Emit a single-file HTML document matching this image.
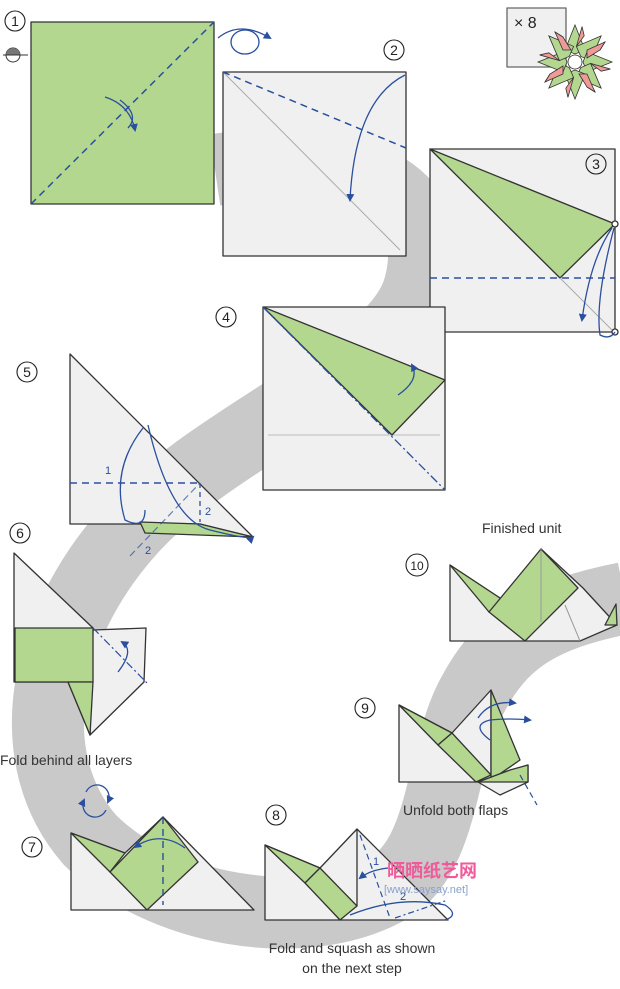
<!DOCTYPE html>
<html><head><meta charset="utf-8"><style>
html,body{margin:0;padding:0;background:#fff;width:620px;height:989px;overflow:hidden}
svg{display:block}
text{font-family:"Liberation Sans","Noto Sans CJK SC",sans-serif}
</style></head><body>
<svg width="620" height="989" viewBox="0 0 620 989" xmlns="http://www.w3.org/2000/svg">
<defs>
<marker id="ah" markerWidth="8" markerHeight="8" refX="6" refY="4" orient="auto" markerUnits="userSpaceOnUse"><path d="M0,0 L8,4 L0,8 z" fill="#2a4f9e"/></marker>
</defs>
<!-- gray swirl -->
<path d="M215,170 C350,150 445,190 420,285 C400,370 220,430 130,530 C40,630 20,760 90,840 C160,910 300,935 385,890 C445,860 440,760 470,700 C500,640 540,615 625,598" fill="none" stroke="#c9c9c9" stroke-width="72"/>
<g stroke="#333" stroke-width="1.3" stroke-linejoin="round">
<!-- step 1 -->
<rect x="31" y="22" width="183" height="182" fill="#b3d78f"/>
<line x1="31" y1="204" x2="214" y2="22" stroke="#2a4f9e" stroke-dasharray="7,5" stroke-width="1.5"/>
<!-- step 2 -->
<rect x="223" y="72" width="183" height="184" fill="#f0f0f0"/>
<line x1="223" y1="72" x2="400" y2="250" stroke="#aaa" stroke-width="1"/>
<line x1="223" y1="72" x2="406" y2="148" stroke="#2a4f9e" stroke-dasharray="7,5" stroke-width="1.5"/>
<!-- step 3 -->
<rect x="430" y="149" width="185" height="183" fill="#f0f0f0"/>
<polygon points="430,149 615,224 560,278" fill="#b3d78f"/>
<line x1="560" y1="278" x2="612" y2="330" stroke="#aaa" stroke-width="1"/>
<line x1="430" y1="278" x2="615" y2="278" stroke="#2a4f9e" stroke-dasharray="7,5" stroke-width="1.5"/>
<circle cx="615" cy="224" r="3" fill="#fff"/><circle cx="615" cy="332" r="3" fill="#fff"/>
<!-- x8 box -->
<rect x="507" y="8" width="59" height="59" fill="#f0f0f0" stroke="#666"/>
<!-- step 4 -->
<rect x="263" y="307" width="182" height="183" fill="#f0f0f0"/>
<line x1="268" y1="435" x2="440" y2="435" stroke="#bbb" stroke-width="1"/>
<polygon points="263,307 445,380 392,435" fill="#b3d78f"/>
<line x1="263" y1="307" x2="445" y2="490" stroke="#2a4f9e" stroke-dasharray="9,3,2,3" stroke-width="1.3"/>
<!-- step 5 -->
<polygon points="70,354 253,537 200,524 70,524" fill="#f0f0f0"/>
<polygon points="140,522 200,524 253,537 145,533" fill="#b3d78f"/>
<line x1="70" y1="483" x2="200" y2="483" stroke="#2a4f9e" stroke-dasharray="7,5" stroke-width="1.4"/>
<line x1="200" y1="483" x2="200" y2="522" stroke="#2a4f9e" stroke-dasharray="5,4" stroke-width="1.3"/>
<line x1="130" y1="556" x2="200" y2="483" stroke="#2a4f9e" stroke-dasharray="7,4" stroke-width="1.2" opacity=".7"/>
<!-- step 6 -->
<polygon points="14,553 93,628 90,735 68,682 14,682" fill="#f0f0f0"/>
<polygon points="93,630 146,628 144,682 90,735" fill="#f0f0f0"/>
<rect x="15" y="628" width="78" height="54" fill="#b3d78f"/>
<polygon points="68,682 93,682 90,735" fill="#b3d78f"/>
<line x1="93" y1="628" x2="148" y2="684" stroke="#2a4f9e" stroke-dasharray="8,3,2,3" stroke-width="1.2"/>
<!-- step 7 -->
<polygon points="71,833 125,853 163,817 254,910 71,910" fill="#f0f0f0"/>
<polygon points="71,833 125,853 110,872" fill="#b3d78f"/>
<polygon points="163,817 198,862 147,910 110,872" fill="#b3d78f"/>
<line x1="163" y1="817" x2="163" y2="905" stroke="#2a4f9e" stroke-dasharray="7,5" stroke-width="1.4"/>
<!-- step 8 -->
<polygon points="265,845 320,868 357,829 448,920 265,920" fill="#f0f0f0"/>
<polygon points="265,845 320,868 305,883" fill="#b3d78f"/>
<polygon points="320,868 357,906 340,920 305,883" fill="#b3d78f"/>
<line x1="357" y1="829" x2="357" y2="906"/>
<line x1="360" y1="835" x2="390" y2="918" stroke="#2a4f9e" stroke-dasharray="6,4" stroke-width="1.2"/>
<line x1="395" y1="918" x2="448" y2="900" stroke="#2a4f9e" stroke-dasharray="6,3,2,3" stroke-width="1.2"/>
<!-- step 9 -->
<polygon points="399,705 452,733 491,690 491,780 482,782 399,782" fill="#f0f0f0"/>
<polygon points="399,705 452,733 438,745" fill="#b3d78f"/>
<polygon points="452,733 491,775 476,782 438,745" fill="#b3d78f"/>
<polygon points="491,690 520,760 491,780" fill="#b3d78f"/>
<polygon points="478,782 528,765 528,782 500,795" fill="#f0f0f0"/>
<polygon points="478,782 510,770 528,765 528,782" fill="#b3d78f"/>
<line x1="520" y1="775" x2="537" y2="805" stroke="#2a4f9e" stroke-dasharray="6,4" stroke-width="1.2"/>
<!-- step 10 -->
<polygon points="450,565 503,600 541,549 583,588 617,625 580,641 450,641" fill="#f0f0f0"/>
<polygon points="450,565 503,600 489,612" fill="#b3d78f"/>
<polygon points="541,549 578,588 525,641 489,612" fill="#b3d78f"/>
<polygon points="605,625 616,604 617,625" fill="#b3d78f"/>
<line x1="541" y1="549" x2="541" y2="622" stroke="#999" stroke-width="1"/>
<line x1="565" y1="605" x2="580" y2="641" stroke="#999" stroke-width="1"/>
</g>
<!-- star -->
<g stroke="#333" stroke-width="0.8" transform="translate(575,62)">
<g id="pt"><polygon points="0,-37 10,-12 0,-8 -10,-12" fill="#b3d78f"/><polygon points="-10,-12 -20,-30 -12,-25" fill="#f09a98"/></g>
<use href="#pt" transform="rotate(45)"/><use href="#pt" transform="rotate(90)"/><use href="#pt" transform="rotate(135)"/>
<use href="#pt" transform="rotate(180)"/><use href="#pt" transform="rotate(225)"/><use href="#pt" transform="rotate(270)"/><use href="#pt" transform="rotate(315)"/>
<polygon points="-12,-25 -20,-30 -12,-12 -4,-12" fill="#f09a98"/>
<polygon points="25,-12 30,-20 12,-12 12,-4" fill="#f09a98"/>
<polygon points="12,25 20,30 12,12 4,12" fill="#f09a98"/>
<polygon points="-25,12 -30,20 -12,12 -12,4" fill="#f09a98"/>
<circle r="7" fill="#fff"/>
</g>
<!-- blue arrows -->
<g fill="none" stroke="#2a4f9e" stroke-width="1.3">
<path d="M105,97 Q130,105 135,130" marker-end="url(#ah)"/>
<path d="M120,100 Q140,115 128,128"/>
<path d="M218,38 Q240,20 270,38" marker-end="url(#ah)"/>
<ellipse cx="245" cy="42" rx="14" ry="12"/>
<path d="M405,75 Q355,100 350,200" marker-end="url(#ah)"/>
<path d="M612,228 Q590,260 582,320" marker-end="url(#ah)"/>
<path d="M614,228 Q595,300 600,335 Q610,340 615,332"/>
<path d="M398,395 Q420,380 412,365" marker-end="url(#ah)"/>
<path d="M143,428 Q110,470 125,520 Q145,530 145,510"/>
<path d="M148,425 Q170,520 210,530 Q250,540 253,537" marker-end="url(#ah)"/>
<path d="M118,672 Q135,650 122,642" marker-end="url(#ah)"/>
<path d="M185,848 Q160,830 135,847" marker-end="url(#ah)"/>
<path d="M86,792 A12,12 0 0 1 108,802" marker-end="url(#ah)"/>
<path d="M106,810 A12,12 0 0 1 84,800" marker-end="url(#ah)"/>
<path d="M388,868 Q370,870 360,878" marker-end="url(#ah)"/>
<path d="M350,915 Q400,895 445,905 Q460,915 445,920"/>
<path d="M478,718 Q490,700 515,703" marker-end="url(#ah)"/>
<path d="M490,740 Q470,725 490,720 Q510,718 530,720" marker-end="url(#ah)"/>
</g>
<!-- gray half circle symbol -->
<circle cx="13" cy="55" r="7" fill="#fff" stroke="#333"/>
<path d="M6,55 A7,7 0 0 1 20,55 z" fill="#777"/>
<line x1="3" y1="55" x2="28" y2="55" stroke="#333"/>
<!-- step numbers -->
<g fill="none" stroke="#222" stroke-width="1.1">
<circle cx="15" cy="21" r="10"/><circle cx="394" cy="50" r="10"/><circle cx="596" cy="164" r="10"/>
<circle cx="226" cy="317" r="10"/><circle cx="27" cy="372" r="10"/><circle cx="20" cy="533" r="10"/>
<circle cx="32" cy="847" r="10"/><circle cx="276" cy="815" r="10"/><circle cx="365" cy="708" r="10"/><circle cx="417" cy="565" r="11"/>
</g>
<g font-size="14" fill="#222" text-anchor="middle">
<text x="15" y="26">1</text><text x="394" y="55">2</text><text x="596" y="169">3</text>
<text x="226" y="322">4</text><text x="27" y="377">5</text><text x="20" y="538">6</text>
<text x="32" y="852">7</text><text x="276" y="820">8</text><text x="365" y="713">9</text><text x="417" y="570" font-size="12">10</text>
</g>
<text x="514" y="28" font-size="16" fill="#222">× 8</text>
<g font-size="11" fill="#2a4f9e">
<text x="105" y="474">1</text><text x="205" y="515">2</text><text x="145" y="554">2</text>
<text x="373" y="865">1</text><text x="400" y="900">2</text>
</g>
<g font-size="14" fill="#333">
<text x="482" y="533">Finished unit</text>
<text x="0" y="765">Fold behind all layers</text>
<text x="403" y="815">Unfold both flaps</text>
<text x="352" y="953" text-anchor="middle">Fold and squash as shown</text>
<text x="352" y="973" text-anchor="middle">on the next step</text>
</g>
<text x="387" y="877" font-size="18" font-weight="bold" fill="#f05a9a">晒晒纸艺网</text>
<text x="384" y="893" font-size="11" fill="#8aa0cc">[www.saysay.net]</text>
</svg>
</body></html>
